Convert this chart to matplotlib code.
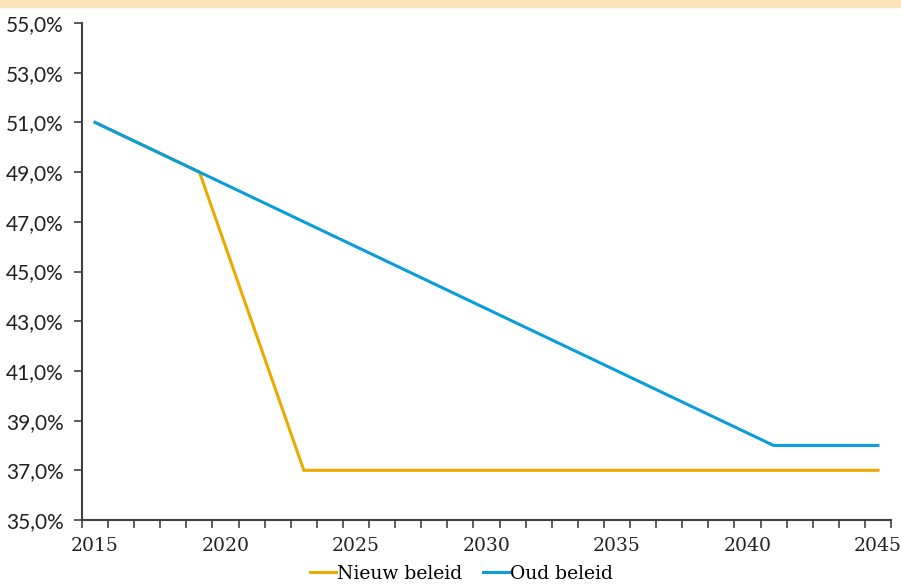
import matplotlib.pyplot as plt
import matplotlib as mpl
import numpy as np

years = list(range(2015, 2046))
oud_beleid = [51.0, 50.5, 50.0, 49.5, 49.0, 48.5, 48.0, 47.5, 47.0, 46.5, 46.0,
              45.5, 45.0, 44.5, 44.0, 43.5, 43.0, 42.5, 42.0, 41.5, 41.0, 40.5,
              40.0, 39.5, 39.0, 38.5, 38.0, 38.0, 38.0, 38.0, 38.0]
nieuw_beleid = [51.0, 50.5, 50.0, 49.5, 49.0, 46.0, 43.0, 40.0, 37.0, 37.0, 37.0,
                37.0, 37.0, 37.0, 37.0, 37.0, 37.0, 37.0, 37.0, 37.0, 37.0, 37.0,
                37.0, 37.0, 37.0, 37.0, 37.0, 37.0, 37.0, 37.0, 37.0]
y_ticks = [35, 37, 39, 41, 43, 45, 47, 49, 51, 53, 55]

yellow = "#EBAA00"
blue = "#0A9DDB"
axis_col = "#404040"

fig = plt.figure(figsize=(9.01, 5.84), dpi=100)
# peach band at top
fig.patches.append(mpl.patches.Rectangle((0, 1 - 7 / 584), 1, 7 / 584,
                                         transform=fig.transFigure,
                                         color="#FDE4BA", zorder=0))
ax = fig.add_axes([82 / 901, 1 - 520 / 584, (891 - 82) / 901, (520 - 23) / 584])

x = np.arange(len(years))
ax.plot(x, nieuw_beleid, color=yellow, linewidth=2.2, label="Nieuw beleid",
        solid_joinstyle="miter")
ax.plot(x, oud_beleid, color=blue, linewidth=2.2, label="Oud beleid",
        solid_joinstyle="miter")

ax.set_xlim(-0.5, len(years) - 0.5)
ax.set_ylim(35, 55)

# category axis: ticks between categories, labels every 5 years
ax.set_xticks(np.arange(-0.5, len(years)), minor=False)
ax.set_xticklabels([])
ax.set_xticks(x[::5], minor=True)
ax.set_xticklabels([str(y) for y in years[::5]], minor=True,
                   family="DejaVu Serif", fontsize=13.5, color="#222222")
ax.tick_params(axis="x", which="major", length=6, width=1.2, color=axis_col,
               direction="out")
ax.tick_params(axis="x", which="minor", length=0, pad=12)

ax.set_yticks(y_ticks)
ax.set_yticklabels([f"{v:.1f}%".replace(".", ",") for v in y_ticks],
                   family="Lato", fontsize=15, color="#222222")
ax.tick_params(axis="y", length=6, width=1.2, color=axis_col, pad=7)

for s in ["top", "right"]:
    ax.spines[s].set_visible(False)
for s in ["left", "bottom"]:
    ax.spines[s].set_color(axis_col)
    ax.spines[s].set_linewidth(1.5)

fig.legend(loc="lower center", bbox_to_anchor=(0.512, -0.027), ncol=2,
           frameon=False, handlelength=1.4, handletextpad=0.05,
           columnspacing=1.1, prop={"family": "DejaVu Serif", "size": 13.5})

fig.savefig("out.png", dpi=100)
